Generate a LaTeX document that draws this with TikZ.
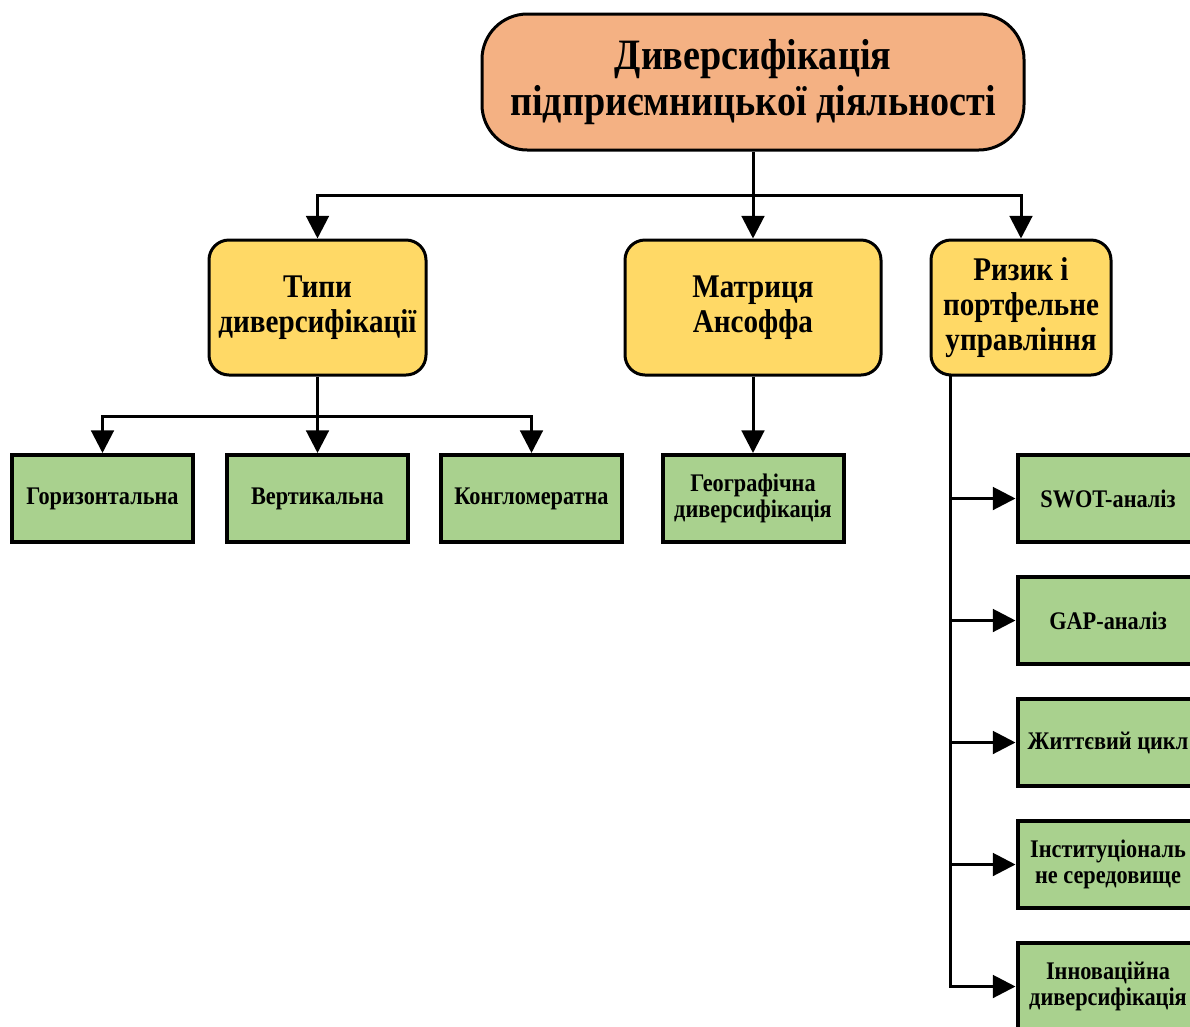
\documentclass[tikz,border=0pt]{standalone}
\usepackage{fontspec}
\setmainfont[FakeStretch=0.88]{Liberation Serif}
\usetikzlibrary{arrows.meta}
\definecolor{rootfill}{HTML}{F4B183}
\definecolor{yelfill}{HTML}{FFD966}
\definecolor{grnfill}{HTML}{A9D18E}
\tikzset{
  rootbox/.style={draw=black, line width=2.25pt, fill=rootfill, rounded corners=34pt,
    minimum width=406.5pt, minimum height=102pt, inner sep=0pt, align=center,
    font=\bfseries\fontsize{32.5}{34}\selectfont},
  yelbox/.style={draw=black, line width=2.25pt, fill=yelfill, rounded corners=15pt,
    minimum height=101.25pt, inner sep=0pt, align=center,
    font=\bfseries\fontsize{24.8}{26}\selectfont},
  grnbox/.style={draw=black, line width=3pt, fill=grnfill,
    minimum width=135.75pt, minimum height=65.25pt, inner sep=0pt, align=center,
    font=\bfseries\fontsize{19}{20}\selectfont},
  conn/.style={draw=black, line width=2.25pt},
  arr/.style={conn, -{Triangle[width=17pt,length=17pt]}}
}
\begin{document}
\begin{tikzpicture}[x=0.75pt,y=-0.75pt]
\useasboundingbox (0,0) rectangle (1190,1026);
\clip (0,0) rectangle (1190,1026);
\fill[white] (0,0) rectangle (1190,1026);

\node[rootbox] (root) at (753,82) {Диверсифікація\\підприємницької діяльності};

\node[yelbox, minimum width=162.75pt] (tip) at (317.5,307.5) {Типи\\диверсифікації};
\node[yelbox, minimum width=192pt] (mat) at (753,307.5) {Матриця\\Ансоффа};
\node[yelbox, minimum width=135pt] (riz) at (1021,307.5) {Ризик і\\портфельне\\управління};

\node[grnbox] (hor) at (102.5,498.5) {Горизонтальна};
\node[grnbox] (ver) at (317.5,498.5) {Вертикальна};
\node[grnbox] (kon) at (531.5,498.5) {Конгломератна};
\node[grnbox] (geo) at (753,498.5) {Географічна\\диверсифікація};

\node[grnbox] (swot) at (1108,498.5) {SWOT-аналіз};
\node[grnbox] (gap) at (1108,620.5) {GAP-аналіз};
\node[grnbox] (life) at (1108,742.5) {Життєвий цикл};
\node[grnbox] (inst) at (1108,864.5) {Інституціональ\\не середовище};
\node[grnbox] (inn) at (1108,986.5) {Інноваційна\\диверсифікація};

% root connectors
\coordinate (j1) at (753,195);
\draw[arr] (root.south) -- (mat.north);
\draw[arr] (j1) -| (tip.north);
\draw[arr] (j1) -| (riz.north);

% types connectors
\coordinate (j2) at (317.5,416);
\draw[arr] (tip.south) -- (ver.north);
\draw[arr] (j2) -| (hor.north);
\draw[arr] (j2) -| (kon.north);

% matrix
\draw[arr] (mat.south) -- (geo.north);

% risk spine
\coordinate (sp) at (950,375);
\draw[arr] (sp) |- (inn.west);
\draw[arr] (sp |- swot.west) -- (swot.west);
\draw[arr] (sp |- gap.west) -- (gap.west);
\draw[arr] (sp |- life.west) -- (life.west);
\draw[arr] (sp |- inst.west) -- (inst.west);
\end{tikzpicture}
\end{document}
